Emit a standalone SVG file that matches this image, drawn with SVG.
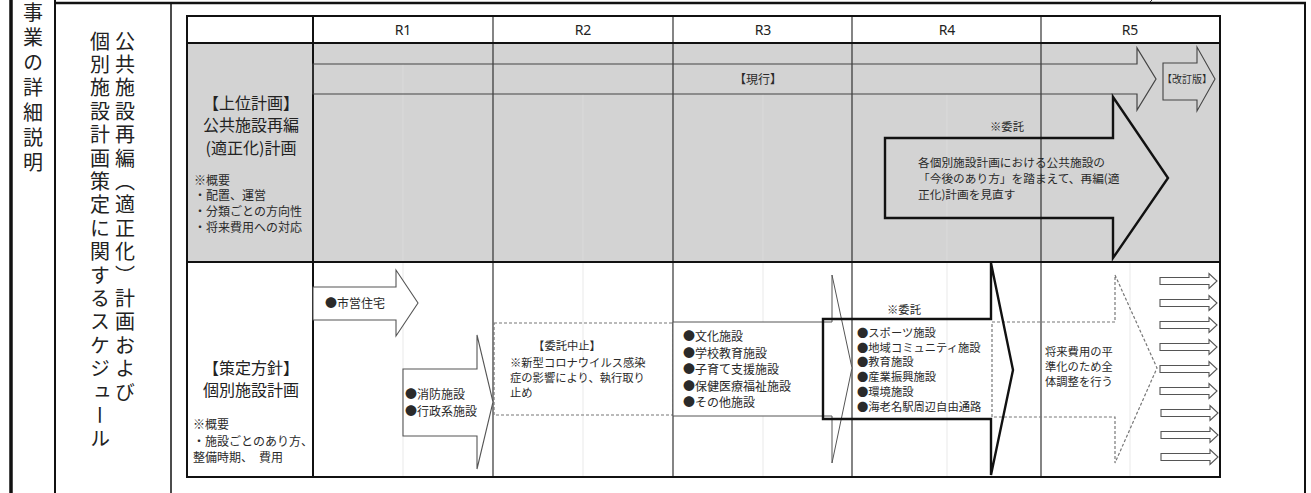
<svg xmlns="http://www.w3.org/2000/svg" width="1311" height="493" viewBox="0 0 1311 493">
<defs>
<style>
text{font-family:"Noto Sans CJK JP","Noto Sans",sans-serif;fill:#2a2a2a}
.v{writing-mode:vertical-rl;font-size:20px;fill:#222}
.hd{font-family:"Noto Sans","Noto Sans CJK JP",sans-serif;font-size:14px;text-anchor:middle;fill:#222}
.lbl{font-size:16px;text-anchor:middle;fill:#222}
.s12{font-size:12px}
.s11{font-size:11.3px}
.mid{text-anchor:middle}
.frame{stroke:#111;fill:none}
.thin{stroke:#333;stroke-width:1.2;fill:none}
.faint{stroke:#e9e9e9;stroke-width:1}
.faintg{stroke:#dadada;stroke-width:1}
.blk{fill:#fff;stroke:#555;stroke-width:1.1}
.dash{fill:none;stroke:#777;stroke-width:1.2;stroke-dasharray:3 2}
.thick{fill:none;stroke:#111;stroke-width:2.4;stroke-linejoin:miter}
</style>
<polygon id="small" points="0,-3.5 49,-3.5 49,-7.5 57,0 49,7.5 49,3.5 0,3.5" class="blk"/>
</defs>
<rect width="1311" height="493" fill="#fff"/>

<g id="outer-frame">
<line x1="11" y1="0" x2="11" y2="493" class="frame" stroke-width="3.5"/>
<line x1="55" y1="0" x2="55" y2="493" class="frame" stroke-width="2"/>
<line x1="55" y1="3" x2="1306" y2="3" class="frame" stroke-width="2.5"/>
<line x1="1305" y1="3" x2="1305" y2="493" class="frame" stroke-width="2"/>
<line x1="171" y1="4" x2="171" y2="493" class="frame" stroke-width="1.5"/>
<line x1="1152" y1="0" x2="1150" y2="2" stroke="#333" stroke-width="1"/>
</g>

<g id="title-left">
<text class="v" x="33" y="2" letter-spacing="5">事業の詳細説明</text>
</g>
<g id="title-sub">
<text class="v" x="125" y="31" letter-spacing="3.4">公共施設再編（適正化）計画および</text>
<text class="v" x="100" y="31" letter-spacing="3.4">個別施設計画策定に関するスケジュール</text>
</g>

<g id="table-grid">
<rect x="187" y="43" width="1033" height="219" fill="#d3d3d3"/>
<line x1="403" y1="64" x2="403" y2="262" class="faintg"/>
<line x1="583" y1="94" x2="583" y2="262" class="faintg"/>
<line x1="763" y1="94" x2="763" y2="262" class="faintg"/>
<line x1="947" y1="94" x2="947" y2="262" class="faintg"/>
<line x1="403" y1="262" x2="403" y2="477" class="faint"/>
<line x1="583" y1="262" x2="583" y2="477" class="faint"/>
<line x1="763" y1="262" x2="763" y2="477" class="faint"/>
<line x1="947" y1="262" x2="947" y2="477" class="faint"/>
<line x1="1130" y1="262" x2="1130" y2="477" class="faint"/>
<line x1="493" y1="16" x2="493" y2="477" class="thin"/>
<line x1="673" y1="16" x2="673" y2="477" class="thin"/>
<line x1="852" y1="16" x2="852" y2="477" class="thin"/>
<line x1="1041" y1="16" x2="1041" y2="477" class="thin"/>
<line x1="313" y1="16" x2="313" y2="477" class="frame" stroke-width="2"/>
<line x1="187" y1="43" x2="1220" y2="43" class="frame" stroke-width="2"/>
<line x1="187" y1="262" x2="1220" y2="262" class="frame" stroke-width="2"/>
<rect x="187" y="16" width="1033" height="461" class="frame" stroke-width="2"/>
</g>

<g id="header">
<text class="hd" x="403" y="35">R1</text>
<text class="hd" x="583" y="35">R2</text>
<text class="hd" x="763" y="35">R3</text>
<text class="hd" x="947" y="35">R4</text>
<text class="hd" x="1130" y="35">R5</text>
</g>

<g id="label-upper">
<text class="lbl" x="251" y="108.5">【上位計画】</text>
<text class="lbl" x="251" y="130.5">公共施設再編</text>
<text class="lbl" x="251" y="153.5">(適正化)計画</text>
<text class="s12" x="194" y="185">※概要</text>
<text class="s12" x="194" y="200">・配置、運営</text>
<text class="s12" x="194" y="216">・分類ごとの方向性</text>
<text class="s12" x="194" y="232">・将来費用への対応</text>
</g>

<g id="label-lower">
<text class="lbl" x="251" y="373.5">【策定方針】</text>
<text class="lbl" x="251" y="395.5">個別施設計画</text>
<text class="s12" x="193" y="429">※概要</text>
<text class="s12" x="193" y="446">・施設ごとのあり方、</text>
<text class="s12" x="193" y="462">整備時期、　費用</text>
</g>

<g id="arrow-current">
<polygon points="313,64 1137,64 1137,48 1156,79 1137,110 1137,94 313,94" fill="none" stroke="#444" stroke-width="1.2"/>
<text class="s12 mid" x="758" y="84">【現行】</text>
</g>

<g id="arrow-revised">
<polygon points="1163,63 1197,63 1197,47 1215,79 1197,111 1197,100 1163,100" fill="none" stroke="#444" stroke-width="1.1"/>
<text class="mid" x="1187" y="83" font-size="10">【改訂版】</text>
</g>

<g id="arrow-upper-commission">
<polygon points="885,138 1113,138 1113,97 1168,178 1113,258 1113,218 885,218" class="thick"/>
<text class="s11 mid" x="1007" y="131">※委託</text>
<text x="918" y="167" font-size="11.7">各個別施設計画における公共施設の</text>
<text x="918" y="183" font-size="11.7">「今後のあり方」を踏まえて、再編(適</text>
<text x="918" y="199" font-size="11.7">正化)計画を見直す</text>
</g>

<g id="arrow-housing">
<polygon points="313,287 396,287 396,270 418,303 396,336 396,320 313,320" class="blk"/>
<text class="s12" x="325" y="307.5">●市営住宅</text>
</g>

<g id="arrow-fire">
<polygon points="403,369 477,369 477,335 493,402 477,469 477,436 403,436" class="blk"/>
<text class="s12" x="405" y="398.5">●消防施設</text>
<text class="s12" x="405" y="415.5">●行政系施設</text>
</g>

<g id="box-suspended">
<rect x="494" y="323" width="179" height="92" class="dash"/>
<text class="s11 mid" x="567" y="350">【委託中止】</text>
<text class="s11" x="510" y="367">※新型コロナウイルス感染</text>
<text class="s11" x="510" y="382">症の影響により、執行取り</text>
<text class="s11" x="510" y="397">止め</text>
</g>

<g id="arrow-r3">
<polygon points="673,322 832,322 832,275 852,368 832,463 832,416 673,416" fill="#fff" stroke="#555" stroke-width="1"/>
<text class="s12" x="683" y="341">●文化施設</text>
<text class="s12" x="683" y="357.5">●学校教育施設</text>
<text class="s12" x="683" y="374">●子育て支援施設</text>
<text class="s12" x="683" y="391">●保健医療福祉施設</text>
<text class="s12" x="683" y="406.5">●その他施設</text>
</g>

<g id="arrow-r5">
<polygon points="992,322 1115,322 1115,275 1157,368 1115,463 1115,417 992,417" class="dash"/>
<text class="s11" x="1045" y="356">将来費用の平</text>
<text class="s11" x="1045" y="371">準化のため全</text>
<text class="s11" x="1045" y="386">体調整を行う</text>
</g>

<g id="arrow-r4">
<polygon points="823,319 991,319 991,263 1013,370 991,475 991,419 823,419" class="thick"/>
<text class="s11 mid" x="904" y="314">※委託</text>
<text class="s11" x="857" y="337">●スポーツ施設</text>
<text class="s11" x="857" y="352">●地域コミュニティ施設</text>
<text class="s11" x="857" y="366">●教育施設</text>
<text class="s11" x="857" y="381">●産業振興施設</text>
<text class="s11" x="857" y="396">●環境施設</text>
<text class="s11" x="857" y="411">●海老名駅周辺自由通路</text>
</g>

<g id="small-arrows">
<use href="#small" x="1160" y="281"/>
<use href="#small" x="1160" y="303"/>
<use href="#small" x="1160" y="325"/>
<use href="#small" x="1160" y="347"/>
<use href="#small" x="1160" y="369"/>
<use href="#small" x="1160" y="391"/>
<use href="#small" x="1161" y="413"/>
<use href="#small" x="1161" y="435"/>
<use href="#small" x="1161" y="457"/>
</g>
</svg>
